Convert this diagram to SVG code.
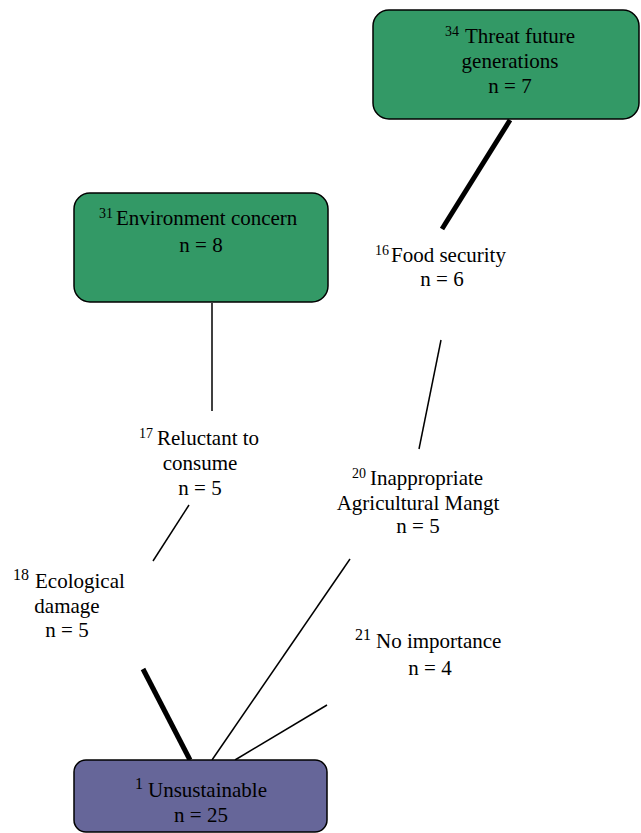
<svg xmlns="http://www.w3.org/2000/svg" width="641" height="833" viewBox="0 0 641 833">
<style>
.box{stroke:#000;stroke-width:1.5}
.g{fill:#339966}
.p{fill:#666699}
.thin{stroke:#000;stroke-width:1.5;fill:none}
.thick{stroke:#000;stroke-width:5;fill:none}
</style>
<rect width="641" height="833" fill="#fff"/>
<g id="connectors">
<line class="thick" x1="510" y1="120" x2="442" y2="229"/>
<line class="thin" x1="441" y1="340" x2="419" y2="449"/>
<line class="thin" x1="212" y1="303" x2="212" y2="411"/>
<line class="thin" x1="189" y1="505" x2="153" y2="561"/>
<line class="thick" x1="143" y1="669" x2="190" y2="760"/>
<line class="thin" x1="350" y1="559" x2="212" y2="760"/>
<line class="thin" x1="327" y1="705" x2="235" y2="760"/>
</g>
<g id="n34">
<rect class="box g" x="373" y="10" width="266" height="109" rx="16"/>
<text font-family="Liberation Serif" font-size="14" x="445" y="36">34</text>
<text font-family="Liberation Serif" font-size="21" x="465" y="43">Threat future</text>
<text font-family="Liberation Serif" font-size="21" text-anchor="middle" x="510" y="68">generations</text>
<text font-family="Liberation Serif" font-size="21" text-anchor="middle" x="510" y="93">n = 7</text>
</g>
<g id="n31">
<rect class="box g" x="74" y="193" width="254" height="109" rx="16"/>
<text font-family="Liberation Serif" font-size="14" x="99" y="218">31</text>
<text font-family="Liberation Serif" font-size="21" x="116" y="225">Environment concern</text>
<text font-family="Liberation Serif" font-size="21" text-anchor="middle" x="201" y="252">n = 8</text>
</g>
<g id="n16">
<text font-family="Liberation Serif" font-size="14" x="375" y="255">16</text>
<text font-family="Liberation Serif" font-size="21" x="391" y="262">Food security</text>
<text font-family="Liberation Serif" font-size="21" text-anchor="middle" x="442" y="286">n = 6</text>
</g>
<g id="n17">
<text font-family="Liberation Serif" font-size="14" x="139" y="438">17</text>
<text font-family="Liberation Serif" font-size="21" x="157" y="445">Reluctant to</text>
<text font-family="Liberation Serif" font-size="21" text-anchor="middle" x="200" y="470">consume</text>
<text font-family="Liberation Serif" font-size="21" text-anchor="middle" x="200" y="495">n = 5</text>
</g>
<g id="n20">
<text font-family="Liberation Serif" font-size="14" x="352" y="478">20</text>
<text font-family="Liberation Serif" font-size="21" x="370" y="485">Inappropriate</text>
<text font-family="Liberation Serif" font-size="21" text-anchor="middle" x="418" y="510">Agricultural Mangt</text>
<text font-family="Liberation Serif" font-size="21" text-anchor="middle" x="418" y="533">n = 5</text>
</g>
<g id="n18">
<text font-family="Liberation Serif" font-size="16" x="13" y="580">18</text>
<text font-family="Liberation Serif" font-size="21" x="35" y="588">Ecological</text>
<text font-family="Liberation Serif" font-size="21" text-anchor="middle" x="67" y="613">damage</text>
<text font-family="Liberation Serif" font-size="21" text-anchor="middle" x="67" y="637">n = 5</text>
</g>
<g id="n21">
<text font-family="Liberation Serif" font-size="16" x="355" y="640">21</text>
<text font-family="Liberation Serif" font-size="21" x="376" y="648">No importance</text>
<text font-family="Liberation Serif" font-size="21" text-anchor="middle" x="430" y="675">n = 4</text>
</g>
<g id="n1">
<rect class="box p" x="74" y="760" width="253" height="72" rx="12"/>
<text font-family="Liberation Serif" font-size="16" x="135" y="789">1</text>
<text font-family="Liberation Serif" font-size="21" x="148" y="797">Unsustainable</text>
<text font-family="Liberation Serif" font-size="21" text-anchor="middle" x="201" y="822">n = 25</text>
</g>
</svg>
